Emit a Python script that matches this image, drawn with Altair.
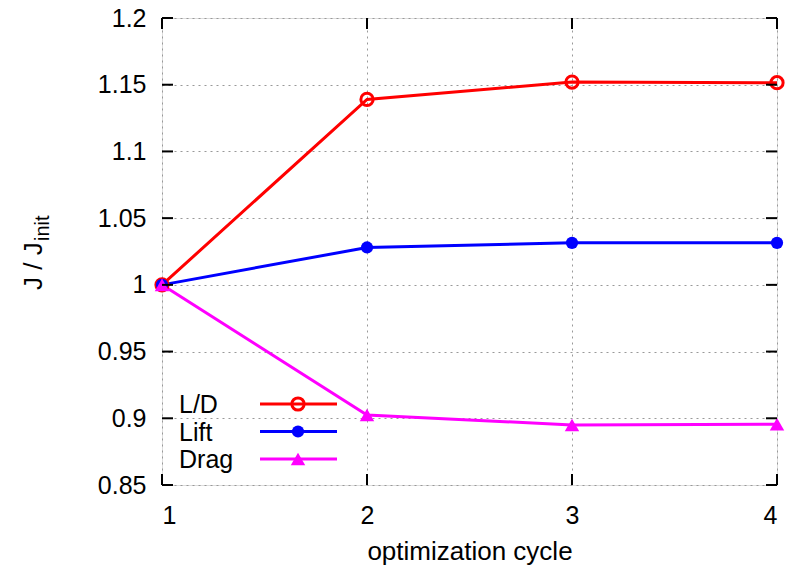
import altair as alt
import pandas as pd

cycles = [1, 2, 3, 4]
ld = [1.0, 1.139, 1.152, 1.1515]
lift = [1.0, 1.028, 1.0315, 1.0315]
drag = [1.0, 0.9025, 0.895, 0.8955]
series_names = ["L/D", "Lift", "Drag"]
series_colors = ["#ff0000", "#0000ff", "#ff00ff"]
y_ticks = [0.85, 0.9, 0.95, 1.0, 1.05, 1.1, 1.15, 1.2]
x_ticks = [1, 2, 3, 4]

W, H = 615, 467
FONT = "Liberation Sans"
FS = 25

rows = []
for name, vals in zip(series_names, [ld, lift, drag]):
    for c, v in zip(cycles, vals):
        rows.append({"cycle": c, "value": v, "series": name})
df = pd.DataFrame(rows)

xs = alt.Scale(domain=[1, 4], nice=False, zero=False)
ys = alt.Scale(domain=[0.85, 1.2], nice=False, zero=False)
cs = alt.Scale(domain=series_names, range=series_colors)

xaxis = alt.Axis(values=x_ticks, format="d", grid=True, gridDash=[2, 4], gridColor="#999999",
                 gridWidth=1, ticks=False, domain=False, labelFont=FONT, labelFontSize=FS,
                 labelColor="black", labelPadding=18, title="optimization cycle",
                 titleFont=FONT, titleFontSize=FS + 1, titleFontWeight="normal",
                 titleColor="black", titlePadding=10)
yaxis = alt.Axis(values=y_ticks, format="~g", grid=True, gridDash=[2, 4], gridColor="#999999",
                 gridWidth=1, ticks=False, domain=False, labelFont=FONT, labelFontSize=FS,
                 labelColor="black", labelPadding=16, title=None)

base = alt.Chart(df)
lines = base.mark_line(strokeWidth=3).encode(
    x=alt.X("cycle:Q", scale=xs, axis=xaxis),
    y=alt.Y("value:Q", scale=ys, axis=yaxis),
    color=alt.Color("series:N", scale=cs, legend=None),
)

marker_styles = {
    "L/D": dict(shape="circle", filled=False, size=150, strokeWidth=3),
    "Lift": dict(shape="circle", filled=True, size=150, strokeWidth=0),
    "Drag": dict(shape="triangle-up", filled=True, size=210, strokeWidth=0),
}

layers = [lines]
for name, col in zip(series_names, series_colors):
    st = marker_styles[name]
    layers.append(
        base.transform_filter(alt.datum.series == name)
        .mark_point(color=col, opacity=1, **st)
        .encode(x=alt.X("cycle:Q", scale=xs), y=alt.Y("value:Q", scale=ys))
    )

# inward ticks (gnuplot style)
ydf = pd.DataFrame({"v": y_ticks})
xdf = pd.DataFrame({"v": x_ticks})
TL = 11
for x0, x1 in [(0, TL), (W - TL, W)]:
    layers.append(alt.Chart(ydf).mark_rule(strokeWidth=2, color="black").encode(
        y=alt.Y("v:Q", scale=ys), x=alt.value(x0), x2=alt.value(x1)))
for y0, y1 in [(H - TL, H), (0, TL)]:
    layers.append(alt.Chart(xdf).mark_rule(strokeWidth=2, color="black").encode(
        x=alt.X("v:Q", scale=xs), y=alt.value(y0), y2=alt.value(y1)))

# legend
leg_y0, leg_dy = 386, 27.5
for i, (name, col) in enumerate(zip(series_names, series_colors)):
    ly = leg_y0 + i * leg_dy
    ldf = pd.DataFrame({"series": [name]})
    lc = alt.Chart(ldf)
    layers.append(lc.mark_text(align="left", baseline="middle", font=FONT, fontSize=FS,
                               color="black", dy=1).encode(
        text="series:N", x=alt.value(17), y=alt.value(ly)))
    layers.append(lc.mark_rule(color=col, strokeWidth=3).encode(
        x=alt.value(98), x2=alt.value(175), y=alt.value(ly)))
    st = marker_styles[name]
    layers.append(lc.mark_point(color=col, opacity=1, **st).encode(
        x=alt.value(136), y=alt.value(ly)))

# y title with subscript
t1 = alt.Chart(pd.DataFrame({"t": ["J / J"]})).mark_text(
    angle=270, align="left", baseline="alphabetic", font=FONT, fontSize=FS + 1, color="black"
).encode(text="t:N", x=alt.value(-120), y=alt.value(272))
t2 = alt.Chart(pd.DataFrame({"t": ["init"]})).mark_text(
    angle=270, align="left", baseline="alphabetic", font=FONT, fontSize=20, color="black"
).encode(text="t:N", x=alt.value(-113), y=alt.value(223))
layers += [t1, t2]

chart = alt.layer(*layers).properties(
    width=W, height=H,
    autosize=alt.AutoSizeParams(type="none"),
    padding={"left": 154, "top": 10, "right": 13, "bottom": 80},
).configure_view(stroke="black", strokeWidth=2).configure(background="white")

chart.save("out.html", embed_options={"renderer": "svg", "actions": False})
